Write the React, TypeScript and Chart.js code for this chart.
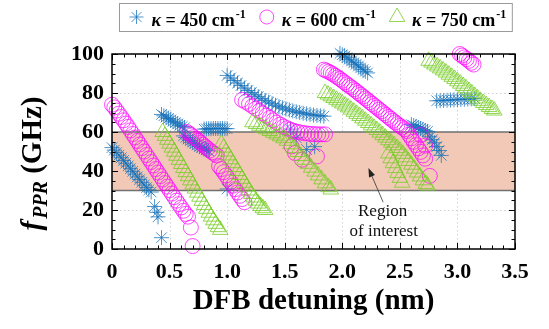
import React, { useEffect, useRef } from 'react';
import { Chart, registerables } from 'chart.js';

Chart.register(...registerables);

type Pt = [number, number];

// κ = 450 cm^-1 (blue asterisks)
const kappa450: Pt[] = [
  [0.00, 52.0], [0.02, 50.7], [0.04, 49.4], [0.06, 48.1], [0.08, 46.8], [0.10, 45.4], [0.12, 44.0], [0.14, 42.6],
  [0.16, 41.2], [0.18, 39.8], [0.20, 38.4], [0.22, 37.0], [0.24, 35.6], [0.26, 34.2], [0.28, 32.8], [0.30, 31.5],
  [0.32, 30.3], [0.34, 29.2],
  [0.37, 21.8], [0.39, 18.8], [0.40, 16.5], [0.43, 5.8],
  [0.43, 69.0], [0.45, 68.3], [0.47, 67.6], [0.49, 66.9], [0.51, 66.2], [0.53, 65.5], [0.55, 64.8], [0.57, 64.1],
  [0.59, 63.4], [0.61, 62.8], [0.63, 62.2],
  [0.62, 58.0], [0.64, 57.2], [0.66, 56.4], [0.68, 55.6], [0.70, 54.8], [0.72, 54.0], [0.74, 53.3], [0.76, 52.6],
  [0.78, 52.0], [0.80, 51.4], [0.82, 50.8], [0.84, 50.3],
  [0.80, 61.5], [0.82, 61.6], [0.84, 61.7], [0.86, 61.7], [0.88, 61.8], [0.90, 61.8], [0.92, 61.8], [0.94, 61.8],
  [0.96, 61.8], [0.98, 61.7], [1.00, 61.7],
  [1.00, 30.8],
  [1.00, 89.0], [1.03, 87.7], [1.06, 86.4], [1.09, 85.1], [1.12, 83.8], [1.15, 82.5], [1.18, 81.3], [1.21, 80.2],
  [1.24, 79.1], [1.27, 78.1], [1.30, 77.1], [1.33, 76.2], [1.36, 75.3], [1.39, 74.5], [1.42, 73.7], [1.45, 73.0],
  [1.48, 72.4], [1.51, 71.8], [1.54, 71.3], [1.57, 70.8], [1.60, 70.4], [1.63, 70.0], [1.66, 69.6], [1.69, 69.3],
  [1.72, 69.0], [1.75, 68.7], [1.78, 68.5], [1.81, 68.3], [1.84, 68.1],
  [1.55, 61.5], [1.60, 57.0], [1.69, 51.0], [1.76, 52.5],
  [1.98, 100.3], [2.00, 99.6], [2.02, 98.9], [2.04, 98.1], [2.06, 97.3], [2.08, 96.4], [2.10, 95.5], [2.12, 94.7],
  [2.14, 93.8], [2.16, 92.9], [2.18, 92.0], [2.20, 91.1], [2.22, 90.3],
  [2.60, 63.8], [2.62, 63.3], [2.64, 62.8], [2.66, 62.3], [2.68, 61.8], [2.70, 61.3], [2.72, 60.8], [2.74, 60.3],
  [2.76, 57.5], [2.78, 56.0], [2.80, 54.5], [2.82, 52.5], [2.84, 50.5], [2.86, 48.0],
  [2.82, 76.0], [2.85, 76.1], [2.88, 76.2], [2.91, 76.3], [2.94, 76.4], [2.97, 76.5], [3.00, 76.6], [3.03, 76.7],
  [3.06, 76.8], [3.09, 76.9], [3.12, 77.0], [3.15, 77.1],
];

// κ = 600 cm^-1 (magenta circles)
const kappa600: Pt[] = [
  [0.00, 74.0], [0.02, 72.6], [0.04, 71.0], [0.06, 69.4], [0.08, 67.7], [0.10, 66.0], [0.12, 64.3], [0.14, 62.6],
  [0.16, 60.8], [0.18, 59.0], [0.20, 57.2], [0.22, 55.4], [0.24, 53.6], [0.26, 51.8], [0.28, 50.0], [0.30, 48.2],
  [0.32, 46.4], [0.34, 44.6], [0.36, 42.8], [0.38, 41.0], [0.40, 39.2], [0.42, 37.4], [0.44, 35.6], [0.46, 33.8],
  [0.48, 32.0], [0.50, 30.2], [0.52, 28.4], [0.54, 26.6], [0.56, 24.8], [0.58, 23.0], [0.60, 21.3], [0.62, 19.6],
  [0.64, 18.0], [0.66, 16.6], [0.685, 11.0], [0.70, 1.5],
  [0.65, 60.0], [0.67, 59.2], [0.69, 58.3], [0.71, 57.4], [0.73, 56.5], [0.75, 55.5], [0.77, 54.5], [0.79, 53.5],
  [0.81, 52.5], [0.83, 51.5], [0.85, 50.5], [0.87, 49.6], [0.89, 48.8], [0.91, 48.0],
  [0.93, 42.5], [0.95, 41.0], [0.97, 39.4], [0.99, 37.7], [1.01, 36.0], [1.03, 34.3], [1.05, 32.5], [1.07, 30.7],
  [1.09, 29.0], [1.11, 27.3], [1.13, 25.6], [1.15, 24.0],
  [1.13, 76.5], [1.16, 75.5], [1.19, 74.4], [1.22, 73.2], [1.25, 72.0], [1.28, 70.8], [1.31, 69.6], [1.34, 68.4],
  [1.37, 67.2], [1.40, 66.0], [1.43, 64.9], [1.46, 63.8], [1.49, 62.8], [1.52, 61.9], [1.55, 61.2], [1.58, 60.6],
  [1.61, 60.1], [1.64, 59.7], [1.67, 59.4], [1.70, 59.2], [1.73, 59.0], [1.76, 58.9], [1.79, 58.8], [1.82, 58.8],
  [1.85, 58.8],
  [1.56, 52.6], [1.59, 49.2], [1.65, 45.8], [1.78, 47.5],
  [1.84, 92.0], [1.86, 91.5], [1.88, 90.9], [1.90, 90.3], [1.92, 89.6], [1.94, 88.8], [1.96, 88.0], [1.98, 87.2],
  [2.00, 86.3], [2.02, 85.4], [2.04, 84.5], [2.06, 83.6], [2.08, 82.8], [2.10, 81.9], [2.12, 81.0], [2.14, 80.0],
  [2.16, 79.1], [2.18, 78.2], [2.20, 77.2], [2.22, 76.3], [2.24, 75.3], [2.26, 74.4], [2.28, 73.4], [2.30, 72.5],
  [2.32, 71.5], [2.34, 70.6], [2.36, 69.6], [2.38, 68.7], [2.40, 67.7], [2.42, 66.8], [2.44, 65.8], [2.46, 64.9],
  [2.48, 64.0], [2.50, 63.1], [2.52, 62.3], [2.54, 61.4], [2.56, 60.5], [2.58, 58.6], [2.60, 56.8], [2.62, 55.0],
  [2.64, 53.3], [2.66, 51.6], [2.68, 49.8], [2.70, 48.0], [2.72, 46.3], [2.76, 37.5],
  [2.68, 58.5], [2.72, 53.0],
  [3.02, 100.0], [3.04, 99.2], [3.06, 98.3], [3.08, 97.4], [3.10, 96.5], [3.12, 95.5], [3.14, 94.6],
];

// κ = 750 cm^-1 (green triangles)
const kappa750: Pt[] = [
  [0.44, 60.0], [0.46, 58.0], [0.48, 56.0], [0.50, 54.0], [0.52, 52.0], [0.54, 49.9], [0.56, 47.8], [0.58, 45.7],
  [0.60, 43.6], [0.62, 41.5], [0.64, 39.4], [0.66, 37.3], [0.68, 35.2], [0.70, 33.1], [0.72, 31.0], [0.74, 28.9],
  [0.76, 26.8], [0.78, 24.7], [0.80, 22.6], [0.82, 20.6], [0.84, 18.6], [0.86, 16.6], [0.88, 14.7], [0.90, 12.9],
  [0.92, 11.2], [0.94, 9.8],
  [0.95, 54.0], [0.97, 52.0], [0.99, 50.0], [1.01, 48.0], [1.03, 46.0], [1.05, 44.0], [1.07, 42.0], [1.09, 40.0],
  [1.11, 38.0], [1.13, 36.0], [1.15, 34.0], [1.17, 32.0], [1.19, 30.0], [1.21, 28.2], [1.23, 26.4], [1.25, 24.8],
  [1.27, 23.3], [1.29, 22.0], [1.31, 20.9], [1.33, 20.0],
  [1.22, 65.0], [1.25, 64.1], [1.28, 63.2], [1.31, 62.3], [1.34, 61.4], [1.37, 60.5], [1.40, 59.6], [1.43, 58.7],
  [1.46, 57.8], [1.49, 56.8], [1.52, 55.5], [1.55, 53.7], [1.58, 51.7], [1.61, 49.7], [1.64, 47.7], [1.67, 45.7],
  [1.70, 43.7], [1.73, 41.7], [1.76, 39.7], [1.79, 37.7], [1.82, 35.7], [1.85, 33.7], [1.88, 31.7], [1.90, 30.5],
  [1.85, 80.0], [1.875, 79.2], [1.90, 78.3], [1.925, 77.4], [1.95, 76.5], [1.975, 75.6], [2.00, 74.6], [2.025, 73.6],
  [2.05, 72.6], [2.075, 71.5], [2.10, 70.4], [2.125, 69.3], [2.15, 68.2], [2.175, 67.0], [2.20, 65.8], [2.225, 64.6],
  [2.25, 63.4], [2.275, 62.2], [2.30, 61.0], [2.325, 59.7], [2.35, 58.4], [2.375, 57.1], [2.40, 55.8], [2.425, 54.5],
  [2.45, 53.2], [2.475, 51.8], [2.50, 50.4], [2.525, 48.8], [2.55, 47.0], [2.575, 45.1], [2.60, 43.2], [2.625, 41.2],
  [2.65, 39.2], [2.675, 37.2], [2.70, 35.2], [2.725, 33.4], [2.74, 32.5],
  [2.40, 49.0], [2.42, 46.5], [2.44, 44.0], [2.46, 41.5], [2.48, 39.0], [2.50, 36.5], [2.52, 34.0],
  [2.75, 96.5], [2.775, 95.6], [2.80, 94.6], [2.825, 93.6], [2.85, 92.6], [2.875, 91.6], [2.90, 90.5], [2.925, 89.4],
  [2.95, 88.3], [2.975, 87.2], [3.00, 86.0], [3.025, 84.8], [3.05, 83.6], [3.075, 82.4], [3.10, 81.1], [3.125, 79.8],
  [3.15, 78.5], [3.175, 77.2], [3.20, 76.0], [3.225, 74.9], [3.25, 73.8], [3.275, 72.8], [3.30, 71.8], [3.32, 71.0],
];

const seriesKappa = ['450', '600', '750'];
const seriesData = [kappa450, kappa600, kappa750];
const seriesStyles = ['star', 'circle', 'triangle'];
const seriesRadius = [7.5, 7.5, 9];
const seriesColors = ['rgba(20,112,185,0.75)', 'rgba(255,0,255,0.72)', 'rgba(120,205,40,0.8)'];

const xRange = [0, 3.5];
const yRange = [0, 100];
const bandRange = [30, 60];
const annotationLines = ['Region', 'of interest'];
const annotationPos: Pt[] = [[2.35, 19], [2.36, 8.8]];
const arrowFrom: Pt = [2.355, 24];
const arrowTo: Pt = [2.227, 41.5];

const SERIF = '"Liberation Serif", "Times New Roman", serif';

function drawMarker(ctx: CanvasRenderingContext2D, style: string, x: number, y: number, r: number, color: string) {
  ctx.save();
  ctx.strokeStyle = color;
  ctx.lineWidth = 1;
  ctx.beginPath();
  if (style === 'star') {
    for (let k = 0; k < 4; k++) {
      const ang = (k * Math.PI) / 4;
      ctx.moveTo(x + Math.cos(ang) * r, y + Math.sin(ang) * r);
      ctx.lineTo(x - Math.cos(ang) * r, y - Math.sin(ang) * r);
    }
  } else if (style === 'circle') {
    ctx.arc(x, y, r, 0, Math.PI * 2);
  } else {
    for (let k = 0; k < 3; k++) {
      const ang = (k * 2 * Math.PI) / 3;
      const px = x + Math.sin(ang) * r;
      const py = y - Math.cos(ang) * r;
      if (k === 0) ctx.moveTo(px, py);
      else ctx.lineTo(px, py);
    }
    ctx.closePath();
  }
  ctx.stroke();
  ctx.restore();
}

const decorPlugin = {
  id: 'decor',
  beforeDatasetsDraw(chart: any) {
    const { ctx, chartArea: a, scales } = chart;
    const x = scales.x;
    const y = scales.y;
    ctx.save();
    ctx.strokeStyle = '#cfcfcf';
    ctx.lineWidth = 1;
    ctx.setLineDash([1.5, 2.5]);
    for (let i = 1; i < 7; i++) {
      const px = Math.round(x.getPixelForValue(i * 0.5)) + 0.5;
      ctx.beginPath();
      ctx.moveTo(px, a.top);
      ctx.lineTo(px, a.bottom);
      ctx.stroke();
    }
    for (let j = 1; j < 5; j++) {
      const py = Math.round(y.getPixelForValue(j * 20)) + 0.5;
      ctx.beginPath();
      ctx.moveTo(a.left, py);
      ctx.lineTo(a.right, py);
      ctx.stroke();
    }
    ctx.setLineDash([]);
    const yTop = y.getPixelForValue(bandRange[1]);
    const yBot = y.getPixelForValue(bandRange[0]);
    ctx.fillStyle = '#f2c9b6';
    ctx.fillRect(a.left, yTop, a.right - a.left, yBot - yTop);
    ctx.strokeStyle = '#707070';
    ctx.lineWidth = 1.5;
    ctx.beginPath();
    ctx.moveTo(a.left, yTop);
    ctx.lineTo(a.right, yTop);
    ctx.moveTo(a.left, yBot);
    ctx.lineTo(a.right, yBot);
    ctx.stroke();
    ctx.restore();
  },
  afterDraw(chart: any) {
    const { ctx, chartArea: a, scales } = chart;
    const x = scales.x;
    const y = scales.y;
    ctx.save();
    // frame
    ctx.strokeStyle = '#000';
    ctx.lineWidth = 1.5;
    ctx.strokeRect(a.left, a.top, a.right - a.left, a.bottom - a.top);
    // inward ticks, all four sides
    ctx.lineWidth = 1;
    ctx.beginPath();
    for (let i = 0; i <= 35; i++) {
      const px = Math.round(x.getPixelForValue(i / 10)) + 0.5;
      const len = i % 5 === 0 ? 6 : 3.5;
      ctx.moveTo(px, a.bottom);
      ctx.lineTo(px, a.bottom - len);
      ctx.moveTo(px, a.top);
      ctx.lineTo(px, a.top + len);
    }
    for (let j = 0; j <= 20; j++) {
      const py = Math.round(y.getPixelForValue(j * 5)) + 0.5;
      const len = j % 4 === 0 ? 6 : 3.5;
      ctx.moveTo(a.left, py);
      ctx.lineTo(a.left + len, py);
      ctx.moveTo(a.right, py);
      ctx.lineTo(a.right - len, py);
    }
    ctx.stroke();

    // annotation
    ctx.fillStyle = '#111';
    ctx.font = `17px ${SERIF}`;
    ctx.textAlign = 'center';
    ctx.textBaseline = 'middle';
    annotationLines.forEach((t, i) => {
      ctx.fillText(t, x.getPixelForValue(annotationPos[i][0]), y.getPixelForValue(annotationPos[i][1]));
    });
    const ax0 = x.getPixelForValue(arrowFrom[0]);
    const ay0 = y.getPixelForValue(arrowFrom[1]);
    const ax1 = x.getPixelForValue(arrowTo[0]);
    const ay1 = y.getPixelForValue(arrowTo[1]);
    const ang = Math.atan2(ay1 - ay0, ax1 - ax0);
    ctx.strokeStyle = '#333';
    ctx.lineWidth = 0.8;
    ctx.beginPath();
    ctx.moveTo(ax0, ay0);
    ctx.lineTo(ax1 - Math.cos(ang) * 6, ay1 - Math.sin(ang) * 6);
    ctx.stroke();
    ctx.fillStyle = '#222';
    ctx.beginPath();
    ctx.moveTo(ax1, ay1);
    ctx.lineTo(ax1 - Math.cos(ang) * 9 + Math.sin(ang) * 3.2, ay1 - Math.sin(ang) * 9 - Math.cos(ang) * 3.2);
    ctx.lineTo(ax1 - Math.cos(ang) * 9 - Math.sin(ang) * 3.2, ay1 - Math.sin(ang) * 9 + Math.cos(ang) * 3.2);
    ctx.closePath();
    ctx.fill();

    // legend
    const fK = `italic bold 18px ${SERIF}`;
    const fM = `bold 18px ${SERIF}`;
    const fS = `bold 12px ${SERIF}`;
    const widths = seriesKappa.map((k) => {
      ctx.font = fK;
      const wk = ctx.measureText('κ').width;
      ctx.font = fM;
      const wm = ctx.measureText(` = ${k} cm`).width;
      ctx.font = fS;
      const ws = ctx.measureText('-1').width;
      return { wk, wm, ws, total: wk + wm + ws + 1 };
    });
    const totalW = 17 + widths.reduce((s, w) => s + 15 + w.total, 0) + 21 * 2 + 6;
    const boxLeft = Math.round((a.left + a.right) / 2 - totalW / 2) + 2.5;
    const boxTop = 3.5;
    const boxH = 28;
    ctx.strokeStyle = '#9a9a9a';
    ctx.lineWidth = 1;
    ctx.fillStyle = '#fff';
    ctx.fillRect(boxLeft, boxTop, totalW, boxH);
    ctx.strokeRect(boxLeft, boxTop, totalW, boxH);
    let cx = boxLeft + 17;
    const iconY = boxTop + 13.5;
    const baseY = boxTop + 22;
    ctx.textAlign = 'left';
    ctx.textBaseline = 'alphabetic';
    seriesKappa.forEach((k, i) => {
      drawMarker(ctx, seriesStyles[i], cx, iconY, i === 2 ? 9 : 7, seriesColors[i]);
      let tx = cx + 15;
      ctx.fillStyle = '#000';
      ctx.font = fK;
      ctx.fillText('κ', tx, baseY);
      tx += widths[i].wk;
      ctx.font = fM;
      ctx.fillText(` = ${k} cm`, tx, baseY);
      tx += widths[i].wm + 1;
      ctx.font = fS;
      ctx.fillText('-1', tx, baseY - 8);
      tx += widths[i].ws;
      cx = tx + 21;
    });

    // y-axis title: f_PPR (GHz)
    const fF = `italic bold 29px ${SERIF}`;
    const fSub = `italic bold 20px ${SERIF}`;
    const fRest = `bold 29px ${SERIF}`;
    ctx.font = fF;
    const w1 = ctx.measureText('f').width;
    ctx.font = fSub;
    const w2 = ctx.measureText('PPR').width;
    ctx.font = fRest;
    const w3 = ctx.measureText(' (GHz)').width;
    const tot = w1 + 2 + w2 + w3;
    ctx.translate(41, (a.top + a.bottom) / 2 + 12);
    ctx.rotate(-Math.PI / 2);
    ctx.fillStyle = '#000';
    let sx = -tot / 2;
    ctx.font = fF;
    ctx.fillText('f', sx, 0);
    sx += w1 + 2;
    ctx.font = fSub;
    ctx.fillText('PPR', sx, 6);
    sx += w2;
    ctx.font = fRest;
    ctx.fillText(' (GHz)', sx, 0);
    ctx.restore();
  },
};

export default function App() {
  const canvasRef = useRef<HTMLCanvasElement | null>(null);

  useEffect(() => {
    if (!canvasRef.current) return;
    Chart.defaults.font.family = SERIF;
    const chart = new Chart(canvasRef.current, {
      type: 'scatter',
      data: {
        datasets: seriesKappa.map((k, i) => ({
          label: `κ = ${k} cm⁻¹`,
          data: seriesData[i].map(([px, py]) => ({ x: px, y: py })),
          pointStyle: seriesStyles[i] as any,
          pointRadius: seriesRadius[i],
          pointHoverRadius: seriesRadius[i],
          pointBorderWidth: 1,
          borderColor: seriesColors[i],
          pointBorderColor: seriesColors[i],
          backgroundColor: 'rgba(0,0,0,0)',
          pointBackgroundColor: 'rgba(0,0,0,0)',
          showLine: false,
          clip: false as any,
          order: 3 - i,
        })),
      },
      options: {
        animation: false,
        responsive: false,
        events: [],
        layout: { padding: { top: 54, right: 34, left: 52, bottom: 0 } },
        plugins: {
          legend: { display: false },
          tooltip: { enabled: false },
        },
        scales: {
          x: {
            type: 'linear',
            min: xRange[0],
            max: xRange[1],
            grid: { display: false, drawTicks: false },
            border: { display: false },
            ticks: {
              stepSize: 0.5,
              color: '#000',
              padding: 10,
              font: { family: SERIF, size: 22, weight: 'bold' },
            },
            title: {
              display: true,
              text: 'DFB detuning (nm)',
              color: '#000',
              padding: { top: 0, bottom: 10 },
              font: { family: SERIF, size: 29, weight: 'bold' },
            },
            afterFit: (scale: any) => {
              scale.height = 80;
            },
          },
          y: {
            type: 'linear',
            min: yRange[0],
            max: yRange[1],
            grid: { display: false, drawTicks: false },
            border: { display: false },
            ticks: {
              stepSize: 20,
              color: '#000',
              padding: 8,
              font: { family: SERIF, size: 22, weight: 'bold' },
            },
            afterFit: (scale: any) => {
              scale.width = 60;
            },
          },
        },
      },
      plugins: [decorPlugin],
    });
    return () => chart.destroy();
  }, []);

  return (
    <div style={{ position: 'fixed', left: 0, top: 0, width: 549, height: 329, background: '#fff' }}>
      <canvas ref={canvasRef} width={549} height={329} style={{ width: 549, height: 329, display: 'block' }} />
    </div>
  );
}
